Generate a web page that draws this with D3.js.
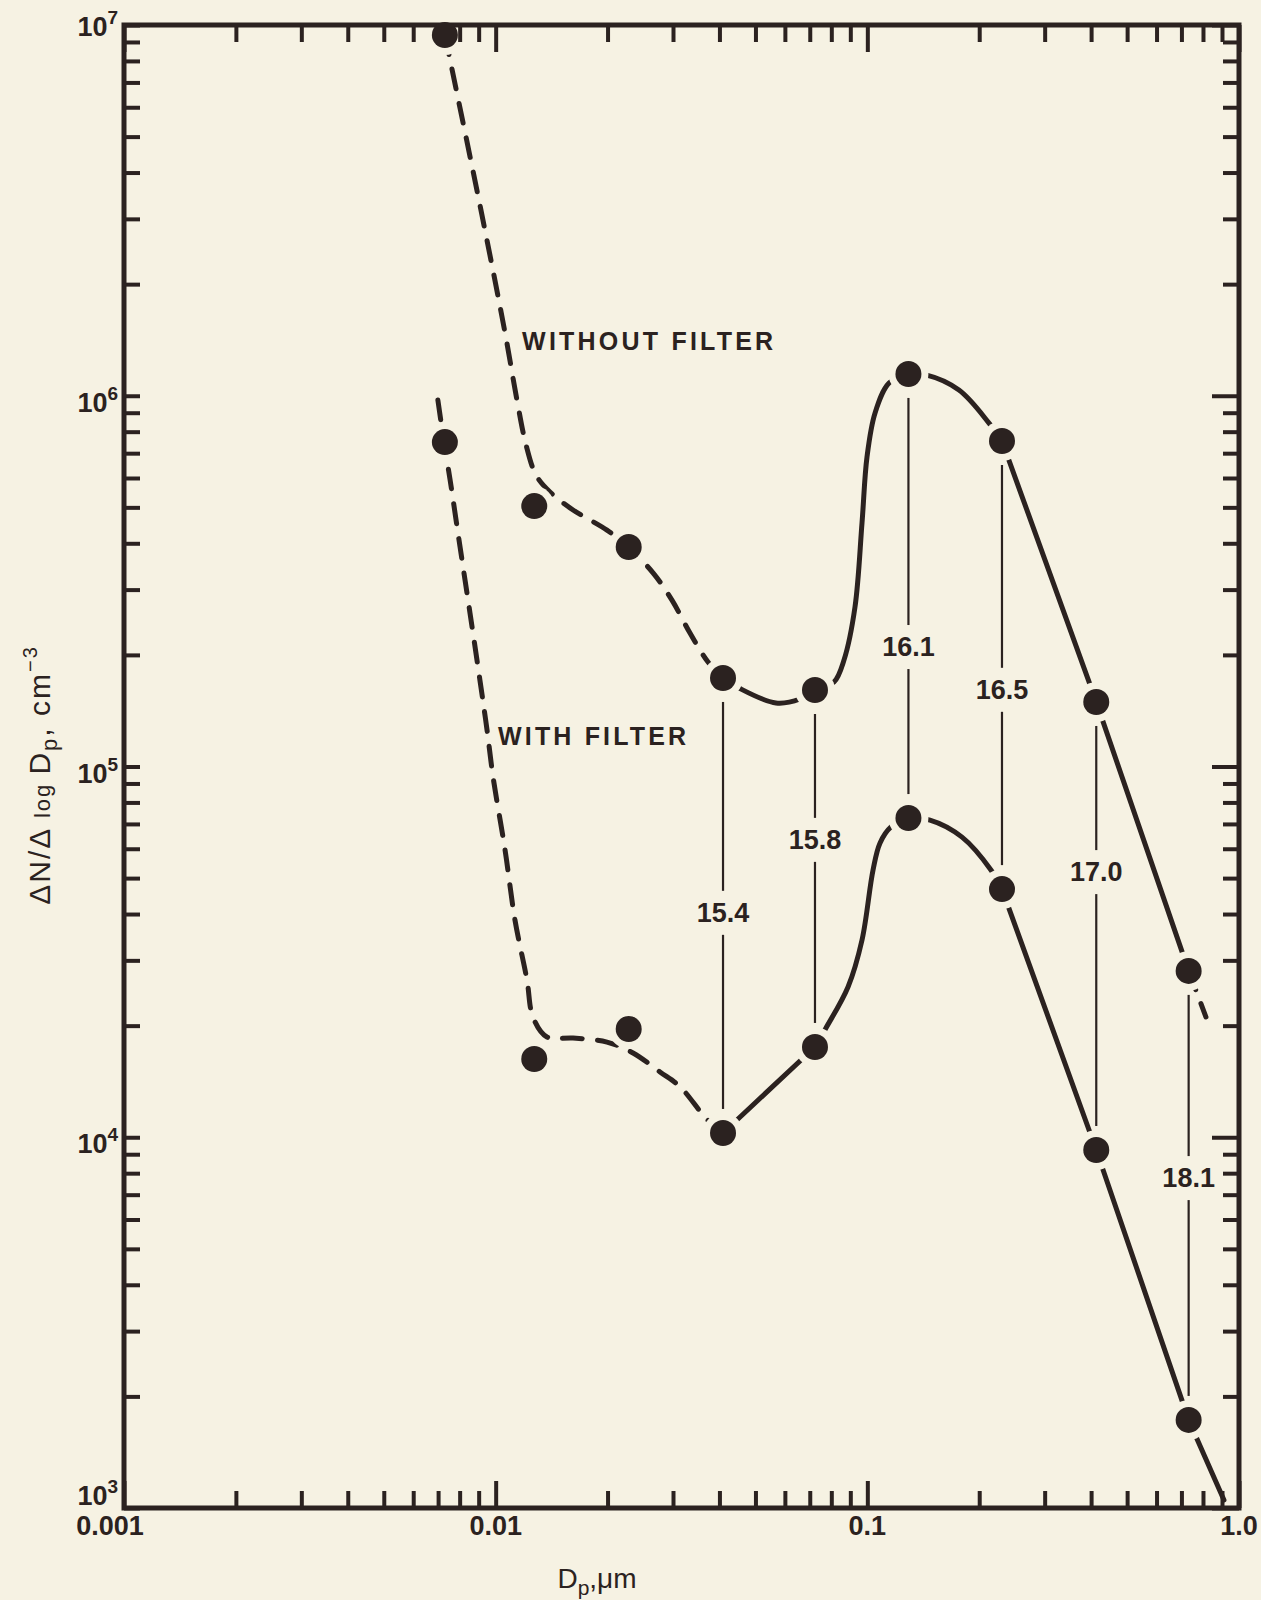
<!DOCTYPE html>
<html><head><meta charset="utf-8">
<script src="https://cdn.jsdelivr.net/npm/d3@7/dist/d3.min.js"></script>
<style>
html,body{margin:0;padding:0;background:#f6f2e3;}
svg{display:block;}
text{font-family:"Liberation Sans",Arial,sans-serif;fill:#2b2220;}
</style></head><body>
<svg id="chart" width="1261" height="1600"></svg>
<script>
// ---- data ----
const diameters     = [0.0073, 0.0127, 0.0228, 0.0409, 0.0723, 0.129, 0.2303, 0.413, 0.732];
const withoutFilter = [9.4e6, 5.04e5, 3.91e5, 1.733e5, 1.608e5, 1.145e6, 7.55e5, 1.493e5, 2.81e4];
const withFilter    = [7.5e5, 1.626e4, 1.959e4, 1.027e4, 1.752e4, 7.26e4, 4.67e4, 9.24e3, 1.728e3];

const ratioIndex   = [3, 4, 5, 6, 7, 8];
const ratioLabels  = ["15.4", "15.8", "16.1", "16.5", "17.0", "18.1"];
const ratioLabelAt = [4.03e4, 6.34e4, 2.10e5, 1.61e5, 5.19e4, 7.76e3];

// hand-drawn curves through the points (Dp, dN/dlogDp)
const withoutDashed = [[0.0073,9.4e6],[0.00907,3.27e6],[0.0106,1.477e6],[0.01141,9.74e5],[0.01207,7.37e5],
  [0.01284,6.11e5],[0.0140,5.50e5],[0.01615,4.92e5],[0.01993,4.34e5],[0.0227,3.91e5],[0.02651,3.33e5],
  [0.02981,2.81e5],[0.03333,2.29e5],[0.03727,1.913e5],[0.0409,1.733e5]];
const withoutSolid = [[0.0409,1.733e5],[0.04516,1.628e5],[0.05678,1.484e5],[0.06589,1.521e5],[0.0723,1.608e5],
  [0.08133,1.69e5],[0.08654,1.938e5],[0.09264,2.693e5],[0.09676,4.54e5],[0.0998,6.84e5],[0.1049,8.99e5],
  [0.1144,1.082e6],[0.129,1.145e6],[0.1438,1.138e6],[0.1764,1.036e6],[0.2125,8.44e5],[0.2303,7.55e5]];
const withoutTail = [[0.732,2.81e4],[0.815,2.11e4]];

const withDashed = [[0.00699,9.74e5],[0.00726,7.5e5],[0.00754,5.93e5],[0.00802,3.91e5],[0.00853,2.594e5],
  [0.00907,1.711e5],[0.00948,1.254e5],[0.00984,9.37e4],[0.0106,5.95e4],[0.01127,3.855e4],[0.01214,2.656e4],
  [0.0126,2.11e4],[0.01374,1.864e4],[0.01615,1.852e4],[0.01993,1.806e4],[0.02342,1.688e4],[0.02768,1.50e4],
  [0.03133,1.369e4],[0.03704,1.117e4],[0.0409,1.027e4]];
const withSolid = [[0.0723,1.752e4],[0.0774,1.971e4],[0.08872,2.543e4],[0.09676,3.405e4],[0.1036,5.26e4],
  [0.1082,6.22e4],[0.1158,6.87e4],[0.129,7.26e4],[0.1474,7.17e4],[0.1798,6.45e4],[0.2151,5.26e4],[0.2303,4.67e4]];
const withTail = [[0.732,1.728e3],[0.911,1.051e3]];

const xTickValues = [0.001, 0.01, 0.1, 1];
const xTickLabels = ["0.001", "0.01", "0.1", "1.0"];
const yTickValues = [1e3, 1e4, 1e5, 1e6, 1e7];
const yTickExps   = ["3", "4", "5", "6", "7"];

const seriesLabels = [{text:"WITHOUT FILTER", at:[0.01178, 1.33e6], w:251}, {text:"WITH FILTER", at:[0.01015, 1.14e5], w:188}];

// ---- drawing ----
const ink = "#2b2220", bg = "#f6f2e3";
const L = 124, R = 1239, T = 25, B = 1508;
const svg = d3.select("#chart");
svg.append("rect").attr("width",1261).attr("height",1600).attr("fill",bg);

const x = d3.scaleLog().domain([0.001, 1]).range([L, R]);
const y = d3.scaleLog().domain([1e3, 1e7]).range([B, T]);

const smooth = d3.line().x(d => x(d[0])).y(d => y(d[1])).curve(d3.curveCatmullRom.alpha(0.5));
const straight = d3.line().x(d => x(d[0])).y(d => y(d[1]));

const pts = (arr, idx) => idx.map(i => [diameters[i], arr[i]]);
const g = svg.append("g");

function path(d, dashed) {
  g.append("path").attr("d", d).attr("fill","none").attr("stroke",ink)
   .attr("stroke-width",5).attr("stroke-linecap","round").attr("stroke-linejoin","round")
   .attr("stroke-dasharray", dashed ? "20,15" : null);
}
path(smooth(withoutDashed), true);
path(smooth(withoutSolid), false);
path(straight(pts(withoutFilter,[6,7,8])), false);
path(straight(withoutTail), true);
path(smooth(withDashed), true);
path(straight(pts(withFilter,[3,4])), false);
path(smooth(withSolid), false);
path(straight(pts(withFilter,[6,7,8])), false);
path(straight(withTail), false);

// connectors with ratio labels
ratioIndex.forEach((i, k) => {
  const cx = x(diameters[i]);
  const yt = y(withoutFilter[i]), yb = y(withFilter[i]), yl = y(ratioLabelAt[k]);
  [[yt + 24, yl - 22], [yl + 22, yb - 24]].forEach(s => {
    g.append("line").attr("x1",cx).attr("x2",cx).attr("y1",s[0]).attr("y2",s[1])
     .attr("stroke",ink).attr("stroke-width",2.2);
  });
  g.append("text").attr("x",cx).attr("y",yl).attr("text-anchor","middle")
   .attr("dominant-baseline","central").style("font-size","27px").style("font-weight","bold").text(ratioLabels[k]);
});

// halos around markers (gaps in lines)
const allPts = pts(withoutFilter, d3.range(9)).concat(pts(withFilter, d3.range(9)));
g.selectAll("circle.halo").data(allPts).join("circle").attr("class","halo")
  .attr("cx",d=>x(d[0])).attr("cy",d=>y(d[1])).attr("r",20).attr("fill",bg);

// frame
g.append("rect").attr("x",L).attr("y",T).attr("width",R-L).attr("height",B-T)
  .attr("fill","none").attr("stroke",ink).attr("stroke-width",5);

// ticks (inward)
const minorX = x.ticks().filter(v => !xTickValues.some(m => Math.abs(m - v) / v < 1e-9));
const minorY = y.ticks().filter(v => !yTickValues.some(m => Math.abs(m - v) / v < 1e-9));
function tickStyle(sel){ sel.select(".domain").remove(); sel.selectAll("line").attr("stroke",ink).attr("stroke-width",4); sel.selectAll("text").remove(); }
svg.append("g").attr("transform",`translate(0,${B})`).call(d3.axisBottom(x).tickValues(minorX).tickSize(-17)).call(tickStyle);
svg.append("g").attr("transform",`translate(0,${B})`).call(d3.axisBottom(x).tickValues(xTickValues).tickSize(-27)).call(tickStyle);
svg.append("g").attr("transform",`translate(0,${T})`).call(d3.axisTop(x).tickValues(minorX).tickSize(-17)).call(tickStyle);
svg.append("g").attr("transform",`translate(0,${T})`).call(d3.axisTop(x).tickValues(xTickValues).tickSize(-27)).call(tickStyle);
svg.append("g").attr("transform",`translate(${L},0)`).call(d3.axisLeft(y).tickValues(minorY.concat(yTickValues)).tickSize(-16)).call(tickStyle);
svg.append("g").attr("transform",`translate(${R},0)`).call(d3.axisRight(y).tickValues(minorY).tickSize(-16)).call(tickStyle);
svg.append("g").attr("transform",`translate(${R},0)`).call(d3.axisRight(y).tickValues(yTickValues).tickSize(-27)).call(tickStyle);

// markers
const mg = svg.append("g");
mg.selectAll("circle").data(allPts).join("circle")
  .attr("cx",d=>x(d[0])).attr("cy",d=>y(d[1])).attr("r",13).attr("fill",ink);

// tick labels
xTickValues.forEach((v, i) => {
  svg.append("text").attr("x", x(v) + (i === 0 ? -14 : 0)).attr("y", B + 27)
    .attr("text-anchor","middle").style("font-size","27px").style("font-weight","bold").text(xTickLabels[i]);
});
yTickValues.forEach((v, i) => {
  const dy = i === 0 ? -3 : (i === yTickValues.length - 1 ? 11 : 16);
  const t = svg.append("text").attr("x", L - 6).attr("y", y(v) + dy)
    .attr("text-anchor","end").style("font-size","27px").style("font-weight","bold");
  t.append("tspan").text("10");
  t.append("tspan").style("font-size","19px").attr("dy",-12).text(yTickExps[i]);
});

// series labels
seriesLabels.forEach(s => {
  svg.append("text").attr("x", x(s.at[0])).attr("y", y(s.at[1])).style("font-size","25px").style("font-weight","bold")
    .attr("textLength", s.w).attr("lengthAdjust","spacing").text(s.text);
});

// axis titles
const xt = svg.append("text").attr("x", 597).attr("y", 1588).attr("text-anchor","middle").style("font-size","28px");
xt.append("tspan").text("D");
xt.append("tspan").style("font-size","21px").attr("dy",7).text("p");
xt.append("tspan").attr("dy",-7).text(",\u03bcm");

const yt = svg.append("text").attr("transform","translate(50,775) rotate(-90)").attr("text-anchor","middle")
  .style("font-size","30px").attr("letter-spacing",2);
yt.append("tspan").text("\u0394N/\u0394 ");
yt.append("tspan").style("font-size","22px").text("log ");
yt.append("tspan").text("D");
yt.append("tspan").style("font-size","22px").attr("dy",7).text("p");
yt.append("tspan").attr("dy",-7).text(", cm");
yt.append("tspan").style("font-size","20px").attr("dy",-13).text("\u22123");
</script></body></html>
